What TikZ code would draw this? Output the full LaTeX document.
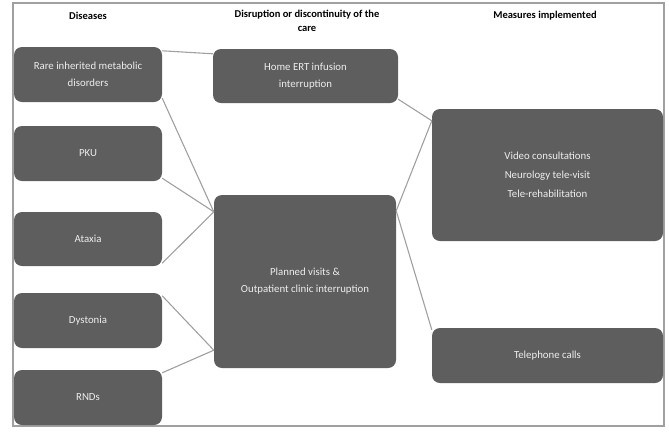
\documentclass[tikz,border=0pt]{standalone}
\usepackage{fontspec}
\setmainfont{Carlito}
\usetikzlibrary{calc}
\definecolor{boxgray}{HTML}{5E5E5E}
\definecolor{txtgray}{HTML}{EDEDED}
\definecolor{linegray}{HTML}{A0A0A0}
\begin{document}
\begin{tikzpicture}[x=1pt,y=-1pt,
  box/.style={draw=none, fill=boxgray, rounded corners=8pt, text=txtgray, align=center,
    font=\fontsize{10.8}{17}\selectfont, inner sep=0pt},
  hdr/.style={font=\bfseries\fontsize{10.5}{14}\selectfont, align=center, text=black},
  conn/.style={draw=linegray, line width=1.1pt},
  frame/.style={draw=linegray, line width=1.2pt}]
\useasboundingbox (0,0) rectangle (669,432);
\draw[frame] (13,3) rectangle (664,426);
% headers
\node[hdr] (h1) at (88,16) {Diseases};
\node[hdr] (h2) at (307,21) {Disruption or discontinuity of the\\care};
\node[hdr] (h3) at (545,16) {Measures implemented};
% disease boxes
\node[box, minimum width=148pt, minimum height=55pt] (rare) at (88,74.5) {Rare inherited metabolic\\disorders};
\node[box, minimum width=148pt, minimum height=55pt] (pku) at (88,153.5) {PKU};
\node[box, minimum width=148pt, minimum height=54pt] (ataxia) at (88,239) {Ataxia};
\node[box, minimum width=148pt, minimum height=55pt] (dyst) at (88,320.5) {Dystonia};
\node[box, minimum width=148pt, minimum height=55pt] (rnds) at (88,397.5) {RNDs};
% disruption boxes
\node[box, minimum width=185pt, minimum height=54pt] (home) at (305.5,76) {Home ERT infusion\\interruption};
\node[box, minimum width=182pt, minimum height=173pt] (planned) at (305,281.5) {Planned visits \&\\Outpatient clinic interruption};
% measures boxes
\node[box, minimum width=231pt, minimum height=132pt, font=\fontsize{10.8}{19}\selectfont] (video) at (547.5,175) {Video consultations\\Neurology tele-visit\\Tele-rehabilitation};
\node[box, minimum width=231pt, minimum height=55pt] (tel) at (547.5,355.5) {Telephone calls};
% junction points
\coordinate (j1) at ($(planned.north west)+(0,17)$);
\coordinate (j2) at ($(planned.south west)+(0,-18)$);
\coordinate (j3) at ($(video.north west)+(0,12)$);
\coordinate (j4) at ($(planned.north east)+(0,16)$);
% connectors
\draw[conn] ($(rare.north east)+(0,4)$) -- ($(home.north west)+(0,5)$);
\draw[conn] ($(rare.south east)+(0,-4)$) -- (j1);
\draw[conn] ($(pku.south east)+(0,-3)$) -- (j1);
\draw[conn] ($(ataxia.south east)+(0,-3)$) -- (j1);
\draw[conn] ($(dyst.north east)+(0,3)$) -- (j2);
\draw[conn] ($(rnds.north east)+(0,3)$) -- (j2);
\draw[conn] ($(home.south east)+(0,-4)$) -- (j3);
\draw[conn] (j4) -- (j3);
\draw[conn] (j4) -- ($(tel.north west)+(0,2)$);
\end{tikzpicture}
\end{document}
